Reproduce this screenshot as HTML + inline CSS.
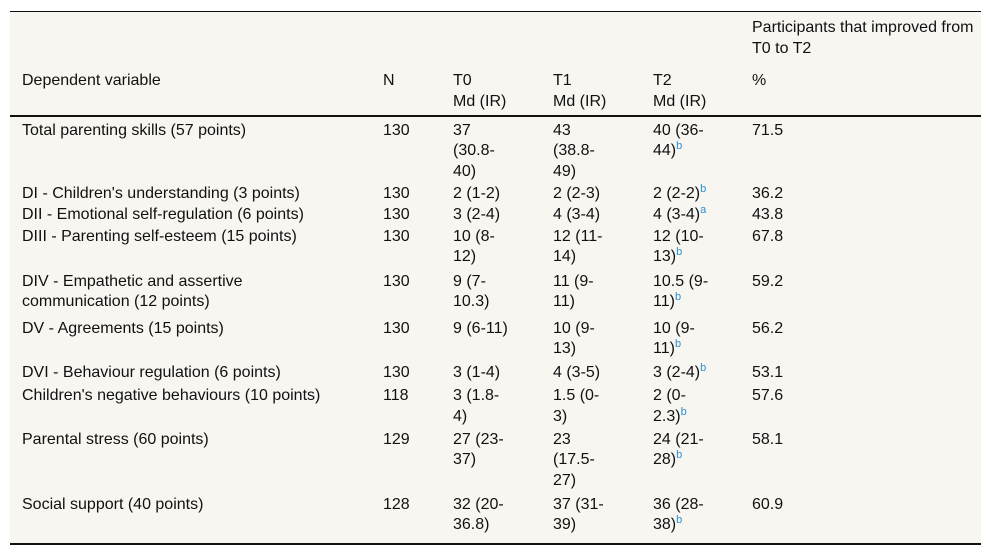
<!DOCTYPE html>
<html><head><meta charset="utf-8"><style>
body{margin:0;width:992px;height:554px;background:#fff;font-family:"Liberation Sans",sans-serif;font-size:16px;color:#111;position:relative;overflow:hidden}
#tbl{position:absolute;left:10px;top:11px;width:971px;height:531px;background:#f8f6f1;border-top:1px solid #111;border-bottom:2px solid #111}
.hr{position:absolute;left:10px;width:971px;top:115px;height:2px;background:#111}
.c{position:absolute;line-height:20.7px;white-space:nowrap}
sup{color:#2a8fd8;font-size:11px;line-height:0;vertical-align:6px}
</style></head><body>
<div id="tbl"></div>
<div class="hr"></div>
<div class="c" style="left:752px;top:18px">Participants that improved from<br>T0 to T2</div>
<div class="c" style="left:22px;top:71px">Dependent variable</div>
<div class="c" style="left:383px;top:71px">N</div>
<div class="c" style="left:453px;top:71px">T0<br>Md (IR)</div>
<div class="c" style="left:553px;top:71px">T1<br>Md (IR)</div>
<div class="c" style="left:653px;top:71px">T2<br>Md (IR)</div>
<div class="c" style="left:752px;top:71px">%</div>
<div id="rows"></div>
<script>
const rows=[
[130,"Total parenting skills (57 points)","130","37<br>(30.8-<br>40)","43<br>(38.8-<br>49)","40 (36-<br>44)<sup>b</sup>","71.5"],
[193,"DI - Children's understanding (3 points)","130","2 (1-2)","2 (2-3)","2 (2-2)<sup>b</sup>","36.2"],
[214.5,"DII - Emotional self-regulation (6 points)","130","3 (2-4)","4 (3-4)","4 (3-4)<sup>a</sup>","43.8"],
[236,"DIII - Parenting self-esteem (15 points)","130","10 (8-<br>12)","12 (11-<br>14)","12 (10-<br>13)<sup>b</sup>","67.8"],
[281,"DIV - Empathetic and assertive<br>communication (12 points)","130","9 (7-<br>10.3)","11 (9-<br>11)","10.5 (9-<br>11)<sup>b</sup>","59.2"],
[328,"DV - Agreements (15 points)","130","9 (6-11)","10 (9-<br>13)","10 (9-<br>11)<sup>b</sup>","56.2"],
[372,"DVI - Behaviour regulation (6 points)","130","3 (1-4)","4 (3-5)","3 (2-4)<sup>b</sup>","53.1"],
[395.5,"Children's negative behaviours (10 points)","118","3 (1.8-<br>4)","1.5 (0-<br>3)","2 (0-<br>2.3)<sup>b</sup>","57.6"],
[439,"Parental stress (60 points)","129","27 (23-<br>37)","23<br>(17.5-<br>27)","24 (21-<br>28)<sup>b</sup>","58.1"],
[504,"Social support (40 points)","128","32 (20-<br>36.8)","37 (31-<br>39)","36 (28-<br>38)<sup>b</sup>","60.9"]
];
const xs=[22,383,453,553,653,752];
const names=['variable','n','t0','t1','t2','percent'];
const host=document.getElementById('rows');
rows.forEach((r,i)=>{
  for(let k=0;k<6;k++){
    const d=document.createElement('div');
    d.className='c';
    d.style.left=xs[k]+'px';
    d.style.top=(r[0]-9.5)+'px';
    d.innerHTML=r[k+1];
    
    
    host.appendChild(d);
  }
});
</script>
</body></html>
